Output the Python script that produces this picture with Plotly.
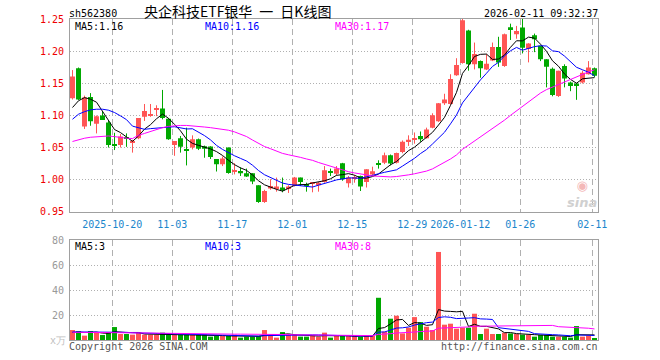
import plotly.graph_objects as go
import pandas as pd

# ---------------- data ----------------
open_ = [1.127, 1.174, 1.083, 1.129, 1.087, 1.100, 1.089, 1.0545, 1.054, 1.066,
         1.058, 1.0645, 1.098, 1.1005, 1.109, 1.111, 1.095, 1.054, 1.0645, 1.046,
         1.050, 1.063, 1.052, 1.0515, 1.032, 1.024, 1.050, 1.013, 1.0134, 1.0098,
         1.0098, 0.991, 0.965, 0.986, 0.986, 0.9875, 0.985, 0.990, 1.003, 0.991,
         0.993, 0.991, 0.996, 1.012, 1.009, 1.0255, 0.994, 1.001, 1.0055, 0.996,
         1.008, 1.024, 1.026, 1.038, 1.026, 1.043, 1.059, 1.062, 1.068, 1.0645,
         1.081, 1.091, 1.119, 1.118, 1.163, 1.182, 1.233, 1.180, 1.185, 1.172,
         1.186, 1.207, 1.1775, 1.238, 1.227, 1.2375, 1.204, 1.2255, 1.209, 1.188,
         1.173, 1.1305, 1.1775, 1.1515, 1.150, 1.1515, 1.1645, 1.174]
high = [1.171, 1.175, 1.131, 1.135, 1.100, 1.107, 1.092, 1.073, 1.071, 1.072,
        1.062, 1.096, 1.118, 1.118, 1.116, 1.140, 1.096, 1.060, 1.068, 1.081,
        1.069, 1.064, 1.053, 1.052, 1.032, 1.036, 1.050, 1.0255, 1.019, 1.017,
        1.010, 0.991, 0.984, 1.0005, 1.003, 1.003, 0.991, 1.004, 1.003, 0.995,
        0.995, 0.996, 1.021, 1.017, 1.021, 1.026, 1.0055, 1.007, 1.006, 1.016,
        1.020, 1.030, 1.042, 1.039, 1.042, 1.061, 1.069, 1.0735, 1.075, 1.081,
        1.1035, 1.1195, 1.134, 1.1645, 1.1895, 1.2515, 1.234, 1.214, 1.186, 1.196,
        1.214, 1.223, 1.228, 1.2435, 1.240, 1.251, 1.213, 1.228, 1.209, 1.188,
        1.175, 1.170, 1.180, 1.153, 1.151, 1.170, 1.185, 1.175]
low = [1.125, 1.124, 1.079, 1.084, 1.072, 1.093, 1.050, 1.046, 1.050, 1.051,
       1.042, 1.063, 1.0915, 1.098, 1.099, 1.094, 1.062, 1.037, 1.042, 1.022,
       1.047, 1.046, 1.034, 1.032, 1.0125, 1.021, 1.009, 1.008, 1.0055, 1.004,
       0.9927, 0.9635, 0.9635, 0.984, 0.981, 0.980, 0.979, 0.989, 0.990, 0.981,
       0.980, 0.981, 0.995, 1.0055, 1.006, 0.998, 0.9875, 0.995, 0.982, 0.9875,
       1.007, 1.017, 1.024, 1.022, 1.025, 1.041, 1.0525, 1.056, 1.059, 1.064,
       1.080, 1.090, 1.1165, 1.117, 1.162, 1.181, 1.170, 1.172, 1.159, 1.171,
       1.185, 1.176, 1.176, 1.218, 1.220, 1.197, 1.183, 1.199, 1.185, 1.144,
       1.130, 1.129, 1.144, 1.138, 1.1245, 1.150, 1.164, 1.160]
close = [1.161, 1.125, 1.128, 1.091, 1.099, 1.093, 1.054, 1.0535, 1.067, 1.064,
         1.0595, 1.096, 1.107, 1.102, 1.110, 1.096, 1.063, 1.060, 1.051, 1.045,
         1.063, 1.048, 1.048, 1.035, 1.024, 1.033, 1.010, 1.014, 1.0098, 1.0047,
         0.997, 0.965, 0.982, 0.990, 0.989, 0.983, 0.989, 1.003, 0.996, 0.990,
         0.995, 0.995, 1.0145, 1.011, 1.017, 1.0005, 1.003, 1.002, 0.989, 1.016,
         1.013, 1.023, 1.038, 1.025, 1.0415, 1.059, 1.062, 1.065, 1.063, 1.078,
         1.1005, 1.119, 1.125, 1.157, 1.179, 1.249, 1.180, 1.196, 1.174, 1.181,
         1.207, 1.183, 1.227, 1.235, 1.232, 1.206, 1.2125, 1.219, 1.188, 1.176,
         1.132, 1.170, 1.158, 1.146, 1.146, 1.167, 1.175, 1.162]
volume = [8, 7.2, 3.5, 7.2, 5.9, 4, 5.9, 10.4, 4.8, 4.8,
          4.3, 5.9, 4.3, 4.3, 4.3, 5.9, 4.3, 4.3, 4.3, 4.3,
          4.3, 4.3, 4.3, 2.7, 3.2, 3.2, 3.2, 4.3, 1.9, 2.7,
          2.7, 3.2, 8, 4, 1.9, 6.4, 4.3, 4.3, 2.7, 2.7,
          3.5, 2.7, 5.9, 1.9, 3.2, 3.2, 3.2, 3.2, 2.7, 3.2,
          3.2, 33.9, 6.7, 17.1, 19.5, 5.3, 9.9, 18.4, 14.4, 10.7,
          8, 70.7, 12.3, 13.1, 9.1, 9.9, 9.9, 21.1, 4.8, 9.1,
          4.8, 4.8, 5.9, 5.3, 4.8, 4.3, 4.3, 2.7, 4, 4,
          2.7, 2.7, 2.7, 1.9, 11.2, 2.7, 3.5, 1.1]

# moving-average values before enough in-chart history exists
ma5_head = [1.1125, 1.123, 1.128, 1.1255]
ma10_head = [1.0942, 1.102, 1.106, 1.1088, 1.1098, 1.1098, 1.1083, 1.1047, 1.0994]
ma30_head = [1.0594, 1.062, 1.0645, 1.066, 1.067, 1.068, 1.068, 1.067, 1.0655, 1.0645,
             1.064, 1.069, 1.072, 1.075, 1.079, 1.081, 1.083, 1.084, 1.0845, 1.0845,
             1.084, 1.0835, 1.082, 1.081, 1.080, 1.0786, 1.077, 1.0744, 1.0708]
vma5_head = [6.0, 6.3, 6.0, 6.3]
vma10_head = [6.5, 6.5, 6.3, 6.2, 6.0, 6.0, 6.0, 6.2, 6.2]
vma30_head = [6.2, 6.2, 6.2, 6.1, 6.1, 6.0, 6.0, 6.0, 6.0, 6.0,
              5.9, 5.8, 5.7, 5.6, 5.5, 5.4, 5.3, 5.2, 5.1, 5.0,
              5.0, 4.9, 4.9, 4.8, 4.8, 4.8, 4.7, 4.7, 4.7]

tick_dates = ["2025-10-20", "2025-11-03", "2025-11-17", "2025-12-01", "2025-12-15",
              "2025-12-29", "2026-01-12", "2026-01-26", "2026-02-11"]
tick_labels = ["2025-10-20", "11-03", "11-17", "12-01", "12-15",
               "12-29", "2026-01-12", "01-26", "02-11"]
price_ticks = [0.95, 1.00, 1.05, 1.10, 1.15, 1.20, 1.25]
vol_ticks = [20, 40, 60, 80]

title_text = "央企科技ETF银华\u2002一\u2002日K线图"
code_text = "sh562380"
time_text = "2026-02-11 09:32:37"
price_ma_labels = ["MA5:1.16", "MA10:1.16", "MA30:1.17"]
vol_ma_labels = ["MA5:3", "MA10:3", "MA30:8"]

# ---------------- derived ----------------
dates = pd.bdate_range("2025-10-09", "2026-02-11")
dates = dates[~dates.isin(pd.to_datetime(["2026-01-01", "2026-01-02"]))]
idx = list(range(len(dates)))
tick_pos = [list(dates).index(pd.Timestamp(d)) - 0.37 for d in tick_dates]


def ma(values, n, head):
    out = list(head)
    for i in range(len(head), len(values)):
        out.append(sum(values[i - n + 1:i + 1]) / n)
    return out


ma5, ma10, ma30 = ma(close, 5, ma5_head), ma(close, 10, ma10_head), ma(close, 30, ma30_head)
vma5, vma10, vma30 = ma(volume, 5, vma5_head), ma(volume, 10, vma10_head), ma(volume, 30, vma30_head)

RED, GREEN = "#ff5555", "#00a800"
up = [c >= o for o, c in zip(open_, close)]
colors = [RED if u else GREEN for u in up]
MINB = 0.0016
body_lo = [min(o, c) for o, c in zip(open_, close)]
body_h = [max(abs(c - o), MINB) for o, c in zip(open_, close)]

fig = go.Figure()

# wicks
for flag, col in ((True, RED), (False, GREEN)):
    wx, wy = [], []
    for i in idx:
        if up[i] == flag:
            wx += [i, i, None]
            wy += [low[i], high[i], None]
    fig.add_trace(go.Scatter(x=wx, y=wy, mode="lines", line=dict(color=col, width=1),
                             hoverinfo="skip", xaxis="x", yaxis="y"))

fig.add_trace(go.Bar(x=idx, y=body_h, base=body_lo, width=0.83, marker_color=colors,
                     marker_line_width=0, xaxis="x", yaxis="y"))

for vals, col in ((ma5, "#000000"), (ma10, "#0000ff"), (ma30, "#ff00ff")):
    fig.add_trace(go.Scatter(x=idx, y=vals, mode="lines", line=dict(color=col, width=1),
                             xaxis="x", yaxis="y"))

fig.add_trace(go.Bar(x=idx, y=volume, width=0.83, marker_color=colors, marker_line_width=0,
                     xaxis="x2", yaxis="y2"))
for vals, col in ((vma5, "#000000"), (vma10, "#0000ff"), (vma30, "#ff00ff")):
    fig.add_trace(go.Scatter(x=idx, y=vals, mode="lines", line=dict(color=col, width=1),
                             xaxis="x2", yaxis="y2"))

# ---------------- layout ----------------
Lp, Rp, Tp, Bp = 70, 598, 19, 340
MONO = "DejaVu Sans Mono"
FRAME = "#a0a0a0"
GRID = "#b0b0b0"


def px_x(x):
    return (x - Lp) / (Rp - Lp)


def px_y(y):
    return (Bp - y) / (Bp - Tp)


xr = [-5 / 12, len(idx) - 5 / 12]
common_x = dict(range=xr, tickvals=tick_pos, showgrid=True, gridcolor=GRID, gridwidth=1,
                griddash="6px,4px", showline=True, mirror=True, linecolor=FRAME, linewidth=1,
                zeroline=False, ticks="", fixedrange=True)
fig.update_layout(
    width=660, height=360, margin=dict(l=Lp, r=660 - Rp, t=Tp, b=360 - Bp),
    paper_bgcolor="white", plot_bgcolor="white", showlegend=False, barmode="overlay",
    xaxis=dict(**common_x, domain=[0, 1], anchor="y", ticktext=tick_labels,
               tickfont=dict(family=MONO, size=10, color="#1a86cc"), ticklabelstandoff=3),
    xaxis2=dict(**common_x, domain=[0, 1], anchor="y2", matches="x", showticklabels=False),
    yaxis=dict(domain=[px_y(211.5), 1], range=[0.95, 1.2508], tickvals=price_ticks,
               ticktext=["%.2f" % v for v in price_ticks],
               tickfont=dict(family=MONO, size=10, color="#ee0000"),
               showgrid=True, gridcolor=GRID, griddash="1px,2px", showline=True, mirror=True,
               linecolor=FRAME, linewidth=1, zeroline=False, ticks="", anchor="x",
               ticklabelstandoff=3),
    yaxis2=dict(domain=[0, px_y(240)], range=[0, 80.3], tickvals=vol_ticks,
                ticktext=[str(v) for v in vol_ticks],
                tickfont=dict(family=MONO, size=10, color="#999999"),
                showgrid=True, gridcolor=GRID, griddash="1px,2px", showline=True, mirror=True,
                linecolor=FRAME, linewidth=1, zeroline=False, ticks="", anchor="x2",
                ticklabelstandoff=3),
)


def note(text, x, y, xanchor="left", color="#000000", size=10, family=MONO, **kw):
    fig.add_annotation(text=text, x=px_x(x), y=px_y(y), xref="paper", yref="paper",
                       xanchor=xanchor, yanchor="middle", showarrow=False,
                       borderpad=0, borderwidth=0,
                       font=dict(family=family, size=size, color=color), **kw)


note(code_text, 69, 13)
note(title_text, 237, 11.5, xanchor="center", size=14, family="Noto Sans CJK SC")
note(time_text, 598, 13, xanchor="right")
ma_cols = ["#000000", "#0000ff", "#ff00ff"]
for lab, col, xx in zip(price_ma_labels, ma_cols, (75, 205, 335)):
    note(lab, xx, 26.5, color=col)
for lab, col, xx in zip(vol_ma_labels, ma_cols, (75, 205, 335)):
    note(lab, xx, 246, color=col)
note("x万", 66, 340.5, xanchor="right", color="#c0c0c0", size=10)
note("Copyright 2026 SINA.COM", 69, 347, color="#555555")
note("http://finance.sina.com.cn", 598, 347, xanchor="right", color="#555555")
note('<span style="color:#f4b8b8">◉</span><br><b><i>sina</i></b>', 582, 194,
     xanchor="center", color="#d0d0d0", size=13, family="DejaVu Sans")

fig.write_html("out.html")
